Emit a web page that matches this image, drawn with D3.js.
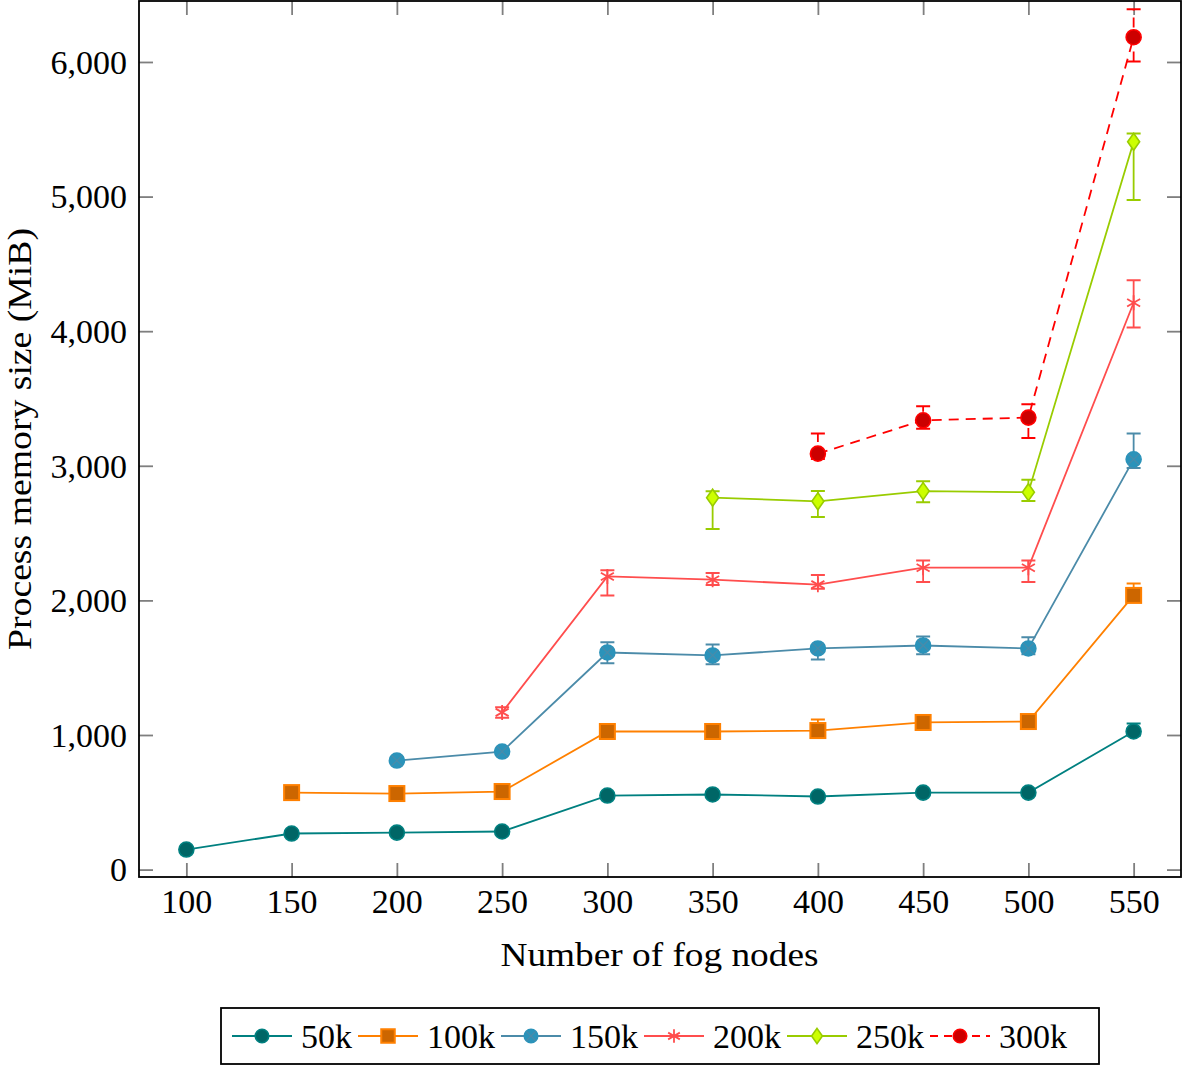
<!DOCTYPE html>
<html>
<head>
<meta charset="utf-8">
<script src="https://cdn.jsdelivr.net/npm/d3@7"></script>
<style>
  html, body { margin: 0; padding: 0; background: #fff; }
  svg { display: block; }
  svg text { font-family: "Liberation Serif", "DejaVu Serif", "Times New Roman", serif !important; fill: #000; }
</style>
</head>
<body>
<svg id="chart" width="1182" height="1066"></svg>
<script>
// ---------------- data ----------------
const nodeCounts = [100, 150, 200, 250, 300, 350, 400, 450, 500, 550];
const xTickValues = [100, 150, 200, 250, 300, 350, 400, 450, 500, 550];
const yTickValues = [0, 1000, 2000, 3000, 4000, 5000, 6000];
const seriesNames = ["50k", "100k", "150k", "200k", "250k", "300k"];

const mem50k    = [149, 268, 275, 283, 550, 558, 543, 572, 572, 1026];
const mem50kHi  = [168, 288, 293, 301, 570, 578, 562, 592, 592, 1085];
const mem50kLo  = [132, 250, 258, 266, 532, 540, 525, 555, 555, 995];

const mem100k   = [null, 572, 565, 580, 1026, 1026, 1033, 1093, 1100, 2037];
const mem100kHi = [null, 592, 584, 600, 1048, 1046, 1115, 1114, 1120, 2126];
const mem100kLo = [null, 552, 546, 560, 1005, 1006, 1012, 1072, 1080, 1995];

const mem150k   = [null, null, 810, 877, 1613, 1591, 1643, 1665, 1643, 3048];
const mem150kHi = [null, null, 832, 898, 1689, 1673, 1668, 1732, 1727, 3239];
const mem150kLo = [null, null, 790, 858, 1533, 1526, 1561, 1599, 1599, 2983];

const mem200k   = [null, null, null, 1168, 2178, 2154, 2117, 2243, 2243, 4211];
const mem200kHi = [null, null, null, 1206, 2223, 2203, 2188, 2297, 2297, 4379];
const mem200kLo = [null, null, null, 1128, 2037, 2114, 2086, 2136, 2136, 4027];

const mem250k   = [null, null, null, null, null, 2763, 2736, 2812, 2804, 5407];
const mem250kHi = [null, null, null, null, null, 2810, 2812, 2886, 2896, 5469];
const mem250kLo = [null, null, null, null, null, 2530, 2619, 2730, 2738, 4974];

const mem300k   = [null, null, null, null, null, null, 3090, 3338, 3358, 6184];
const mem300kHi = [null, null, null, null, null, null, 3239, 3442, 3457, 6391];
const mem300kLo = [null, null, null, null, null, null, 3050, 3276, 3206, 6003];

// ---------------- styles ----------------
const seriesStyles = [
  { line: "#008080", fill: "#006666", mark: "circle", dash: null },
  { line: "#ff8000", fill: "#cc6600", mark: "square", dash: null },
  { line: "#4b8ba9", fill: "#2b93ba", mark: "otimes", dash: null },
  { line: "#ff4d4d", fill: "#ff4d4d", mark: "asterisk", dash: null },
  { line: "#99cc00", fill: "#ccff00", mark: "diamond", dash: null },
  { line: "#ff0000", fill: "#cc0000", mark: "circle", dash: "10,7" }
];
const seriesMeans = [mem50k, mem100k, mem150k, mem200k, mem250k, mem300k];
const seriesHi = [mem50kHi, mem100kHi, mem150kHi, mem200kHi, mem250kHi, mem300kHi];
const seriesLo = [mem50kLo, mem100kLo, mem150kLo, mem200kLo, mem250kLo, mem300kLo];

const series = seriesNames.map((name, i) => ({
  name,
  style: seriesStyles[i],
  points: nodeCounts.map((n, j) => ({ x: n, y: seriesMeans[i][j], hi: seriesHi[i][j], lo: seriesLo[i][j] }))
                    .filter(p => p.y !== null)
}));

// ---------------- layout ----------------
const plot = { left: 139, right: 1181, top: 1, bottom: 877 };
const svg = d3.select("#chart");
const FS = 34;
const FONT = "Liberation Serif, DejaVu Serif, serif";

const x = d3.scaleLinear().domain([77.5, 572.5]).range([plot.left, plot.right]);
const y = d3.scaleLinear().domain([-55, 6453]).range([plot.bottom, plot.top]);

// ticks (inward, gray) on all four sides
const tickLen = 14;
const gAxes = svg.append("g");
const axB = gAxes.append("g").attr("transform", `translate(0,${plot.bottom})`)
  .call(d3.axisBottom(x).tickValues(xTickValues).tickSize(-tickLen).tickFormat(d3.format("d")));
const axT = gAxes.append("g").attr("transform", `translate(0,${plot.top})`)
  .call(d3.axisTop(x).tickValues(xTickValues).tickSize(-tickLen).tickFormat(""));
const axL = gAxes.append("g").attr("transform", `translate(${plot.left},0)`)
  .call(d3.axisLeft(y).tickValues(yTickValues).tickSize(-tickLen).tickFormat(d3.format(",")));
const axR = gAxes.append("g").attr("transform", `translate(${plot.right},0)`)
  .call(d3.axisRight(y).tickValues(yTickValues).tickSize(-tickLen).tickFormat(""));
gAxes.selectAll(".domain").remove();
gAxes.selectAll("g").attr("font-family", FONT);
gAxes.selectAll(".tick line").attr("stroke", "#7f7f7f").attr("stroke-width", 1.8);

axB.selectAll(".tick text")
  .attr("y", 36).attr("dy", 0)
  .attr("font-size", FS).attr("fill", "#000");
axL.selectAll(".tick text")
  .attr("x", -12).attr("dy", "0.33em")
  .attr("font-size", FS).attr("fill", "#000");

// ---------------- series ----------------
const gData = svg.append("g");
const line = d3.line().x(d => x(d.x)).y(d => y(d.y));

function drawMark(g, style, cx, cy, scale) {
  const s = scale || 1;
  const lw = 1.6;
  if (style.mark === "circle") {
    g.append("circle").attr("cx", cx).attr("cy", cy).attr("r", 7.5 * s)
      .attr("fill", style.fill).attr("stroke", style.line).attr("stroke-width", lw);
  } else if (style.mark === "square") {
    const h = 7.5 * s;
    g.append("rect").attr("x", cx - h).attr("y", cy - h).attr("width", 2 * h).attr("height", 2 * h)
      .attr("fill", style.fill).attr("stroke", style.line).attr("stroke-width", lw + 0.4);
  } else if (style.mark === "otimes") {
    const r = 7.5 * s;
    g.append("circle").attr("cx", cx).attr("cy", cy).attr("r", r)
      .attr("fill", style.fill).attr("stroke", style.fill).attr("stroke-width", lw);
    const k = r * 0.7;
    g.append("path").attr("d", `M${cx - k},${cy - k}L${cx + k},${cy + k}M${cx - k},${cy + k}L${cx + k},${cy - k}`)
      .attr("stroke", style.line).attr("stroke-width", 1.2).attr("fill", "none");
  } else if (style.mark === "asterisk") {
    const r = 7.5 * s;
    let d = "";
    [90, 30, -30].forEach(a => {
      const dx = r * Math.cos(a * Math.PI / 180), dy = r * Math.sin(a * Math.PI / 180);
      d += `M${cx - dx},${cy - dy}L${cx + dx},${cy + dy}`;
    });
    g.append("path").attr("d", d).attr("stroke", style.line).attr("stroke-width", 1.8).attr("fill", "none");
  } else if (style.mark === "diamond") {
    const w = 6 * s, h = 8.5 * s;
    g.append("path").attr("d", `M${cx},${cy - h}L${cx + w},${cy}L${cx},${cy + h}L${cx - w},${cy}Z`)
      .attr("fill", style.fill).attr("stroke", style.line).attr("stroke-width", lw);
  }
}

series.forEach(s => {
  const g = gData.append("g");
  g.append("path").datum(s.points).attr("d", line)
    .attr("fill", "none").attr("stroke", s.style.line).attr("stroke-width", 1.8)
    .attr("stroke-dasharray", s.style.dash);
  // error bars
  const capW = 7;
  s.points.forEach(p => {
    const px = x(p.x), yh = y(p.hi), yl = y(p.lo);
    g.append("path")
      .attr("d", `M${px},${yl}L${px},${yh}`)
      .attr("stroke", s.style.line).attr("stroke-width", 1.8).attr("fill", "none")
      .attr("stroke-dasharray", s.style.dash);
    g.append("path")
      .attr("d", `M${px - capW},${yh}L${px + capW},${yh}M${px - capW},${yl}L${px + capW},${yl}`)
      .attr("stroke", s.style.line).attr("stroke-width", 2).attr("fill", "none");
  });
  s.points.forEach(p => drawMark(g, s.style, x(p.x), y(p.y)));
});

// frame
svg.append("rect")
  .attr("x", plot.left).attr("y", plot.top)
  .attr("width", plot.right - plot.left).attr("height", plot.bottom - plot.top)
  .attr("fill", "none").attr("stroke", "#000").attr("stroke-width", 1.8);

// axis labels
svg.append("text")
  .attr("x", (plot.left + plot.right) / 2 - 0.5).attr("y", 966)
  .attr("text-anchor", "middle").attr("font-size", FS).attr("font-family", FONT)
  .attr("textLength", 318).attr("lengthAdjust", "spacingAndGlyphs")
  .text("Number of fog nodes");
svg.append("text")
  .attr("transform", `translate(31,439) rotate(-90)`)
  .attr("text-anchor", "middle").attr("font-size", FS).attr("font-family", FONT)
  .attr("textLength", 422).attr("lengthAdjust", "spacingAndGlyphs")
  .text("Process memory size (MiB)");

// legend
const legend = { left: 221, top: 1008, right: 1099, bottom: 1064 };
svg.append("rect")
  .attr("x", legend.left).attr("y", legend.top)
  .attr("width", legend.right - legend.left).attr("height", legend.bottom - legend.top)
  .attr("fill", "#fff").attr("stroke", "#000").attr("stroke-width", 1.8);
const legCy = (legend.top + legend.bottom) / 2;
let cursor = legend.left + 11;
series.forEach(s => {
  const g = svg.append("g");
  g.append("path").attr("d", `M${cursor},${legCy}L${cursor + 60},${legCy}`)
    .attr("stroke", s.style.line).attr("stroke-width", 1.8)
    .attr("stroke-dasharray", s.style.dash ? "8,6" : null);
  drawMark(g, s.style, cursor + 30, legCy, 0.9);
  const t = g.append("text").attr("x", cursor + 69).attr("y", legCy + 12)
    .attr("font-size", FS).attr("font-family", FONT).text(s.name);
  const w = t.node().getComputedTextLength();
  cursor += 69 + w + 6;
});
</script>
</body>
</html>
